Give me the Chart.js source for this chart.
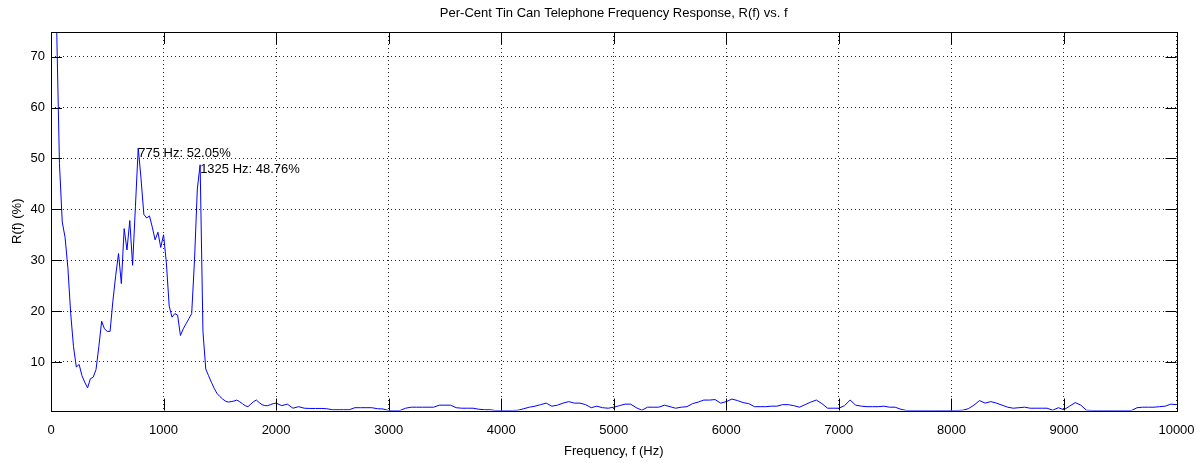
<!DOCTYPE html>
<html>
<head>
<meta charset="utf-8">
<title>Tin Can Telephone Frequency Response</title>
<script src="https://cdn.jsdelivr.net/npm/chart.js@4.4.1/dist/chart.umd.min.js"></script>
<style>
  html, body { margin: 0; padding: 0; background: #fff; }
</style>
</head>
<body>
<canvas id="myChart" width="1203" height="463"></canvas>
<script>
// frequencies (Hz) and response (%)
const freqHz = [
  50, 75, 100, 125, 150, 175, 200, 225, 250, 275, 300, 325, 350, 375, 400, 425, 450, 475, 500,
  525, 550, 575, 600, 625, 650, 675, 700, 725, 750, 775, 800, 825, 850, 875, 900, 925, 950, 975, 1000,
  1025, 1050, 1075, 1100, 1125, 1150, 1175, 1200, 1225, 1250, 1275, 1300, 1325, 1350, 1375, 1400,
  1425, 1450, 1475, 1500, 1525, 1550, 1575, 1600, 1625, 1650, 1675, 1700, 1725, 1750, 1775, 1800,
  1825, 1850, 1875, 1900, 1925, 1950, 1975, 2000,
  2050, 2100, 2150, 2200, 2250, 2300, 2350, 2400, 2450, 2500, 2550, 2600, 2650, 2700, 2750, 2800,
  2850, 2900, 2950, 3000, 3050, 3100, 3150, 3200, 3250, 3300, 3350, 3400, 3450, 3500, 3550, 3600,
  3650, 3700, 3750, 3800, 3850, 3900, 3950, 4000, 4050, 4100, 4150, 4200, 4250, 4300, 4350, 4400,
  4450, 4500, 4550, 4600, 4650, 4700, 4750, 4800, 4850, 4900, 4950, 5000, 5050, 5100, 5150, 5200,
  5250, 5300, 5350, 5400, 5450, 5500, 5550, 5600, 5650, 5700, 5750, 5800, 5850, 5900, 5950, 6000,
  6050, 6100, 6150, 6200, 6250, 6300, 6350, 6400, 6450, 6500, 6550, 6600, 6650, 6700, 6750, 6800,
  6850, 6900, 6950, 7000, 7050, 7100, 7150, 7200, 7250, 7300, 7350, 7400, 7450, 7500, 7550, 7600,
  7650, 7700, 7750, 7800, 7850, 7900, 7950, 8000, 8050, 8100, 8150, 8200, 8250, 8300, 8350, 8400,
  8450, 8500, 8550, 8600, 8650, 8700, 8750, 8800, 8850, 8900, 8950, 9000, 9050, 9100, 9150, 9200,
  9250, 9300, 9350, 9400, 9450, 9500, 9550, 9600, 9650, 9700, 9750, 9800, 9850, 9900, 9950, 10000
];
const responsePct = [
  76, 49, 37.5, 34.5, 28.5, 19.5, 13, 9, 9.5, 7.3, 6, 4.9, 6.7, 7, 8.5, 13, 18, 16.5, 16,
  16, 22, 27, 31.3, 25.4, 36.2, 32, 37.8, 29, 40.5, 52.05, 46, 39, 38.3, 38.7, 36.5, 34, 35.5, 32.5, 35,
  29.5, 21, 18.8, 19.5, 19.2, 15.2, 16.5, 17.5, 18.5, 19.5, 30, 44, 48.76, 16, 8.6, 7.3,
  6, 4.8, 3.8, 3.2, 2.7, 2.3, 2.1, 2.2, 2.3, 2.5, 2.2, 1.8, 1.4, 1.2, 1.7, 2.2,
  2.5, 2.0, 1.6, 1.4, 1.4, 1.6, 1.8, 1.9,
  1.4, 1.7, 0.9, 1.2, 0.9, 0.85, 0.85, 0.85, 0.8, 0.6, 0.6, 0.6, 0.6, 1.0, 1.0, 1.0,
  1.0, 0.8, 0.75, 0.45, 0.45, 0.45, 0.9, 1.1, 1.1, 1.1, 1.1, 1.1, 1.5, 1.5, 1.5, 1.0,
  0.9, 0.9, 0.9, 0.7, 0.6, 0.6, 0.45, 0.45, 0.45, 0.45, 0.5, 0.8, 1.1, 1.3, 1.6, 1.9,
  1.3, 1.5, 1.9, 2.2, 1.9, 1.9, 1.6, 1.0, 1.3, 1.0, 0.9, 1.1, 1.4, 1.7, 1.7, 1.0,
  0.5, 1.1, 1.1, 1.1, 1.5, 1.2, 0.9, 1.1, 1.2, 1.8, 2.1, 2.5, 2.5, 2.6, 1.9, 2.2,
  2.7, 2.4, 2.0, 1.8, 1.2, 1.2, 1.2, 1.3, 1.3, 1.6, 1.6, 1.4, 1.1, 1.6, 2.1, 2.5,
  1.8, 0.9, 0.9, 0.9, 1.4, 2.5, 1.5, 1.3, 1.2, 1.2, 1.2, 1.3, 1.1, 1.1, 0.7, 0.45,
  0.45, 0.45, 0.45, 0.45, 0.45, 0.45, 0.45, 0.45, 0.45, 0.5, 0.8, 1.5, 2.4, 1.9, 2.2, 1.9,
  1.5, 1.1, 0.9, 1.0, 1.1, 0.9, 0.9, 0.9, 0.9, 0.5, 1.0, 0.6, 1.3, 2.0, 1.5, 0.5,
  0.45, 0.45, 0.45, 0.45, 0.45, 0.45, 0.45, 0.45, 1.0, 1.1, 1.1, 1.1, 1.2, 1.3, 1.7, 1.6
];

const peakFreqs = [775, 1325];
const peakValues = [52.05, 48.76];

const xTicks = [0, 1000, 2000, 3000, 4000, 5000, 6000, 7000, 8000, 9000, 10000];
const yTicks = [10, 20, 30, 40, 50, 60, 70];

const fontFamily = "'Liberation Sans', Arial, Helvetica, sans-serif";
Chart.defaults.font.family = fontFamily;
Chart.defaults.font.size = 13;
Chart.defaults.color = "#000";

let points = [];
for (let i = 0; i < freqHz.length; i++) {
  points.push({ x: freqHz[i], y: responsePct[i] });
}

// MATLAB style box, inward tick marks and peak labels
const matlabAxes = {
  id: "matlabAxes",
  afterDraw(chart) {
    const ctx = chart.ctx;
    const a = chart.chartArea;
    const x = chart.scales.x;
    const y = chart.scales.y;
    ctx.save();
    ctx.strokeStyle = "#000";
    ctx.lineWidth = 1;
    ctx.setLineDash([]);
    ctx.beginPath();
    xTicks.forEach((v) => {
      let px = Math.round(x.getPixelForValue(v)) + 0.5;
      ctx.moveTo(px, a.bottom);
      ctx.lineTo(px, a.bottom - 12);
      ctx.moveTo(px, a.top);
      ctx.lineTo(px, a.top + 12);
    });
    yTicks.forEach((v) => {
      let py = Math.round(y.getPixelForValue(v)) + 0.5;
      ctx.moveTo(a.left, py);
      ctx.lineTo(a.left + 11, py);
      ctx.moveTo(a.right, py);
      ctx.lineTo(a.right - 11, py);
    });
    ctx.stroke();
    ctx.strokeRect(
      Math.round(a.left) + 0.5,
      Math.round(a.top) + 0.5,
      Math.round(a.right) - Math.round(a.left),
      Math.round(a.bottom) - Math.round(a.top)
    );

    ctx.fillStyle = "#000";
    ctx.font = "13px " + fontFamily;
    ctx.textAlign = "left";
    ctx.textBaseline = "middle";
    for (let i = 0; i < peakFreqs.length; i++) {
      let px = x.getPixelForValue(peakFreqs[i]);
      let py = y.getPixelForValue(peakValues[i]);
      ctx.fillText(peakFreqs[i] + " Hz: " + peakValues[i].toFixed(2) + "%", px, py + 5);
    }
    ctx.restore();
  },
};

const ctx = document.getElementById("myChart");

new Chart(ctx, {
  type: "line",
  data: {
    datasets: [
      {
        data: points,
        borderColor: "rgb(0, 0, 255)",
        borderWidth: 1,
        pointRadius: 0,
        tension: 0,
        fill: false,
      },
    ],
  },
  options: {
    responsive: false,
    animation: false,
    layout: {
      padding: { left: 0, right: 26.5, top: 0, bottom: 0 },
    },
    plugins: {
      legend: { display: false },
      tooltip: { enabled: false },
      title: {
        display: true,
        text: "Per-Cent Tin Can Telephone Frequency Response, R(f) vs. f",
        fullSize: false,
        color: "#000",
        font: { size: 13, weight: "normal" },
        padding: { top: 6, bottom: 10.4 },
      },
    },
    scales: {
      x: {
        type: "linear",
        min: 0,
        max: 10000,
        afterBuildTicks: (scale) => {
          scale.ticks = xTicks.map((v) => ({ value: v }));
        },
        afterFit: (scale) => {
          scale.height = 52.5;
          scale.paddingLeft = 0;
          scale.paddingRight = 0;
        },
        grid: {
          color: "rgba(0,0,0,0.85)",
          lineWidth: 1,
          drawTicks: false,
        },
        border: { display: false, dash: [1, 3] },
        ticks: {
          padding: 12,
          maxRotation: 0,
          autoSkip: false,
          callback: (v) => String(v),
        },
        title: {
          display: true,
          text: "Frequency, f (Hz)",
          padding: { top: 0, bottom: 4 },
        },
      },
      y: {
        type: "linear",
        min: 0.45,
        max: 74.86,
        afterBuildTicks: (scale) => {
          scale.ticks = yTicks.map((v) => ({ value: v }));
        },
        afterFit: (scale) => {
          scale.width = 51;
          scale.paddingTop = 0;
          scale.paddingBottom = 0;
        },
        grid: {
          color: "rgba(0,0,0,0.85)",
          lineWidth: 1,
          drawTicks: false,
        },
        border: { display: false, dash: [1, 3] },
        ticks: {
          padding: 6,
          autoSkip: false,
          callback: (v) => String(v),
        },
        title: {
          display: true,
          text: "R(f) (%)",
          padding: { top: 10, bottom: 0 },
        },
      },
    },
  },
  plugins: [matlabAxes],
});
</script>
</body>
</html>
